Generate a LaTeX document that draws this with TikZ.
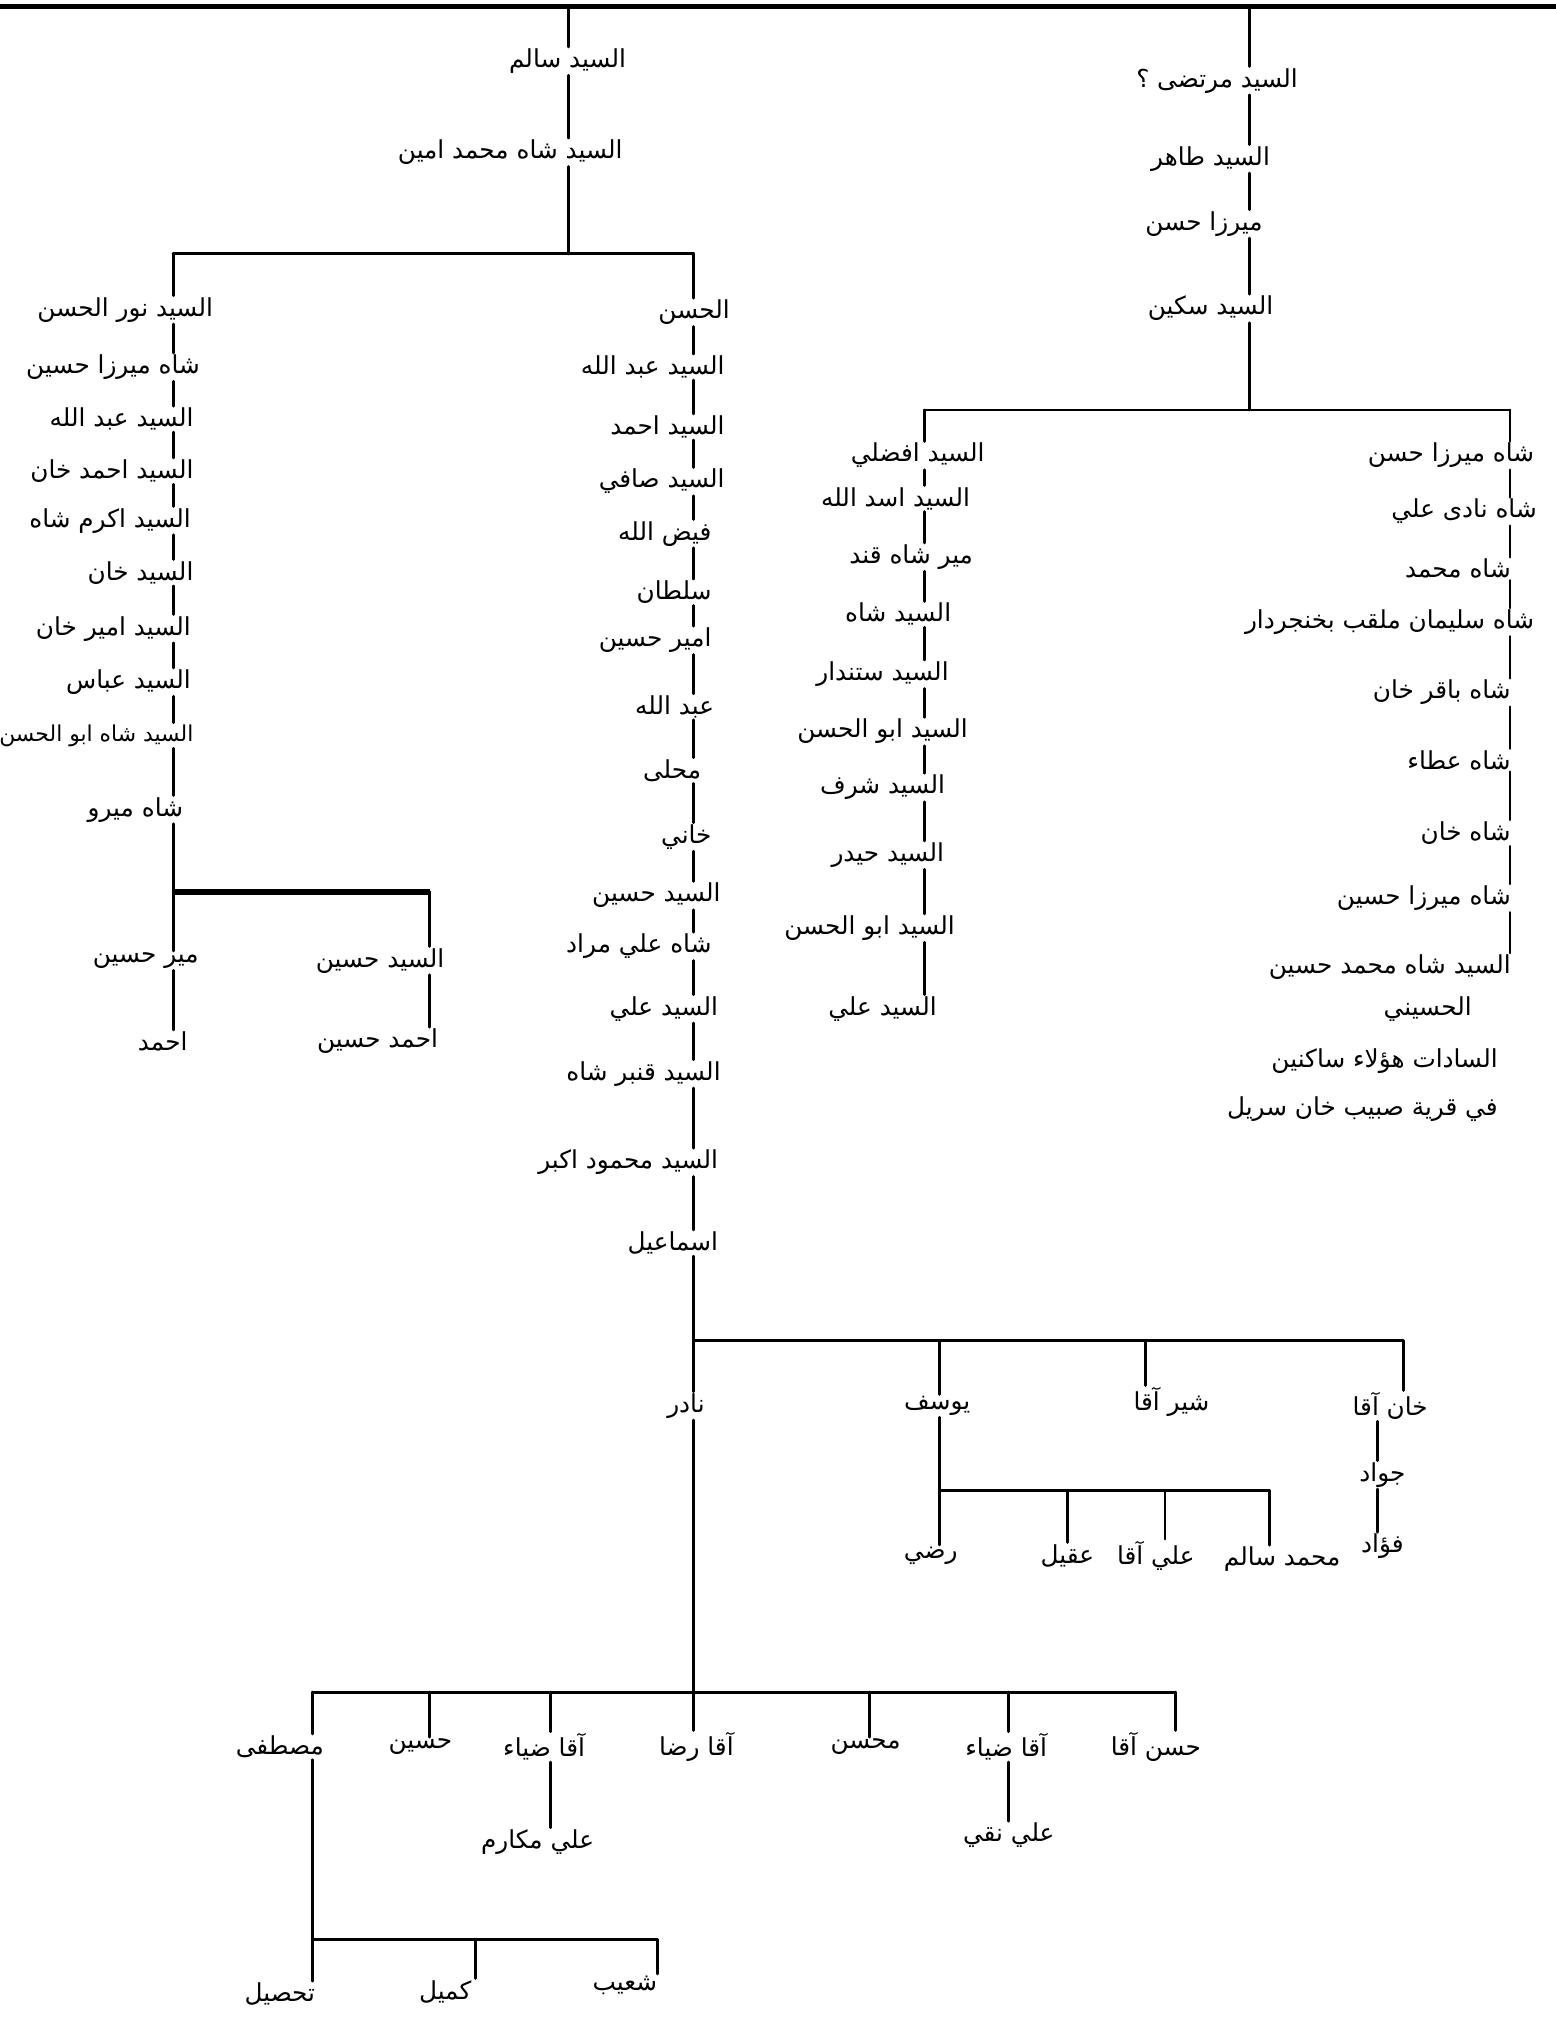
\documentclass[tikz,border=0pt]{standalone}
\usepackage{fontspec}
\newfontfamily\arfont[Script=Arabic]{DejaVu Sans}
\TeXXeTstate=1
\newcommand{\AR}[1]{\beginR #1\endR}
\begin{document}
\begin{tikzpicture}[x=0.5pt,y=-0.5pt,
  nm/.style={inner sep=0.5pt, font=\arfont\fontsize{9.5}{11}\selectfont},
  nms/.style={inner sep=0.5pt, font=\arfont\fontsize{8.4}{10}\selectfont},
  ln/.style={line width=1.1pt, line cap=round}]
\useasboundingbox (0,0) rectangle (1195,1568);
% ---------- top line
\coordinate (T1) at (0,5); \coordinate (T2) at (1195,5);
\draw[line width=2pt] (T1) -- (T2);
% ---------- left branch top
\node[nm] (s1) at (436,47) {\AR{السيد سالم}};
\node[nm] (s2) at (392,117) {\AR{السيد شاه محمد امين}};
\coordinate (a1) at (437,5);
\draw[ln] (a1) -- (a1 |- s1.north);
\draw[ln] (a1 |- s1.south) -- (a1 |- s2.north);
\coordinate (j1) at (437,195);
\draw[ln] (a1 |- s2.south) -- (j1);
\coordinate (cL) at (133,195); \coordinate (cM) at (533,195);
\draw[ln] (cL) -- (cM);
% ---------- left column
\node[nm,anchor=east] (L1) at (165,238) {\AR{السيد نور الحسن}};
\node[nm,anchor=east] (L2) at (155,282) {\AR{شاه ميرزا حسين}};
\node[nm,anchor=east] (L3) at (150,322) {\AR{السيد عبد الله}};
\node[nm,anchor=east] (L4) at (150,362) {\AR{السيد احمد خان}};
\node[nm,anchor=east] (L5) at (148,400) {\AR{السيد اكرم شاه}};
\node[nm,anchor=east] (L6) at (150,440) {\AR{السيد خان}};
\node[nm,anchor=east] (L7) at (148,483) {\AR{السيد امير خان}};
\node[nm,anchor=east] (L8) at (148,524) {\AR{السيد عباس}};
\node[nms,anchor=east] (L9) at (150,565) {\AR{السيد شاه ابو الحسن}};
\node[nm,anchor=east] (L10) at (142,622) {\AR{شاه ميرو}};
\draw[ln] (cL) -- (cL |- L1.north);
\foreach \a/\b in {L1/L2,L2/L3,L3/L4,L4/L5,L5/L6,L6/L7,L7/L8,L8/L9,L9/L10}
  \draw[ln] (cL |- \a.south) -- (cL |- \b.north);
\coordinate (jL) at (133,685); \coordinate (jL2) at (330,685);
\draw[ln] (cL |- L10.south) -- (jL);
\draw[line width=2.2pt] (jL) -- (jL2);
\node[nm] (L11) at (112,738) {\AR{مير حسين}};
\node[nm] (L12) at (292,738) {\AR{السيد حسين}};
\node[nm] (L13) at (125,800) {\AR{احمد}};
\node[nm] (L14) at (290,800) {\AR{احمد حسين}};
\draw[ln] (jL) -- (jL |- L11.north);
\draw[ln] (jL2) -- (jL2 |- L12.north);
\draw[ln] (jL |- L11.south) -- (jL |- L13.north);
\draw[ln] (jL2 |- L12.south) -- (jL2 |- L14.north);
% ---------- middle column
\node[nm,anchor=east] (M1) at (562,240) {\AR{الحسن}};
\node[nm,anchor=east] (M2) at (558,282) {\AR{السيد عبد الله}};
\node[nm,anchor=east] (M3) at (558,328) {\AR{السيد احمد}};
\node[nm,anchor=east] (M4) at (558,370) {\AR{السيد صافي}};
\node[nm,anchor=east] (M5) at (548,410) {\AR{فيض الله}};
\node[nm,anchor=east] (M6) at (548,455) {\AR{سلطان}};
\node[nm,anchor=east] (M7) at (548,492) {\AR{امير حسين}};
\node[nm,anchor=east] (M8) at (550,543) {\AR{عبد الله}};
\node[nm,anchor=east] (M9) at (540,592) {\AR{محلى}};
\node[nm,anchor=east] (M10) at (548,643) {\AR{خاني}};
\node[nm,anchor=east] (M11) at (555,688) {\AR{السيد حسين}};
\node[nm,anchor=east] (M12) at (548,727) {\AR{شاه علي مراد}};
\node[nm,anchor=east] (M13) at (553,775) {\AR{السيد علي}};
\node[nm,anchor=east] (M14) at (555,825) {\AR{السيد قنبر شاه}};
\node[nm,anchor=east] (M15) at (553,893) {\AR{السيد محمود اكبر}};
\node[nm,anchor=east] (M16) at (553,955) {\AR{اسماعيل}};
\draw[ln] (cM) -- (cM |- M1.north);
\foreach \a/\b in {M1/M2,M2/M3,M3/M4,M4/M5,M5/M6,M6/M7,M7/M8,M8/M9,M9/M10,M10/M11,M11/M12,M12/M13,M13/M14,M14/M15,M15/M16}
  \draw[ln] (cM |- \a.south) -- (cM |- \b.north);
% ---------- children of Ismail
\coordinate (jM) at (533,1030); \coordinate (v2) at (722,1030);
\coordinate (v3) at (880,1030); \coordinate (v4) at (1078,1030);
\draw[ln] (cM |- M16.south) -- (jM);
\draw[ln] (jM) -- (v4);
\node[nm] (N1) at (527,1080) {\AR{نادر}};
\node[nm] (N2) at (720,1080) {\AR{يوسف}};
\node[nm] (N3) at (900,1077) {\AR{شير آقا}};
\node[nm] (N4) at (1068,1080) {\AR{خان آقا}};
\draw[ln] (jM) -- (jM |- N1.north);
\draw[ln] (v2) -- (v2 |- N2.north);
\draw[ln] (v3) -- (v3 |- N3.north);
\draw[ln] (v4) -- (v4 |- N4.north);
% Yusuf
\coordinate (y1) at (722,1145); \coordinate (y2) at (820,1145);
\coordinate (y3) at (895,1145); \coordinate (y4) at (975,1145);
\draw[ln] (v2 |- N2.south) -- (y1);
\draw[ln] (y1) -- (y4);
\node[nm] (Y1) at (715,1195) {\AR{رضي}};
\node[nm] (Y2) at (820,1195) {\AR{عقيل}};
\node[nm] (Y3) at (888,1195) {\AR{علي آقا}};
\node[nm] (Y4) at (985,1198) {\AR{محمد سالم}};
\draw[ln] (y1) -- (y1 |- Y1.north);
\draw[ln] (y2) -- (y2 |- Y2.north);
\draw[ln] (y3) -- (y3 |- Y3.north);
\draw[ln] (y4) -- (y4 |- Y4.north);
% Khan Aqa
\coordinate (kx) at (1058,1100);
\node[nm] (K1) at (1062,1133) {\AR{جواد}};
\node[nm] (K2) at (1062,1188) {\AR{فؤاد}};
\draw[ln] (kx |- N4.south) -- (kx |- K1.north);
\draw[ln] (kx |- K1.south) -- (kx |- K2.north);
% Nadir
\coordinate (jB) at (533,1300);
\coordinate (b1) at (240,1300); \coordinate (b2) at (330,1300);
\coordinate (b3) at (423,1300); \coordinate (b5) at (668,1300);
\coordinate (b6) at (775,1300); \coordinate (b7) at (903,1300);
\draw[ln] (jM |- N1.south) -- (jB);
\draw[ln] (b1) -- (b7);
\node[nm] (B1) at (215,1342) {\AR{مصطفى}};
\node[nm] (B2) at (323,1342) {\AR{حسين}};
\node[nm] (B3) at (418,1342) {\AR{آقا ضياء}};
\node[nm] (B4) at (535,1342) {\AR{آقا رضا}};
\node[nm] (B5) at (665,1342) {\AR{محسن}};
\node[nm] (B6) at (773,1342) {\AR{آقا ضياء}};
\node[nm] (B7) at (888,1342) {\AR{حسن آقا}};
\draw[ln] (b1) -- (b1 |- B1.north);
\draw[ln] (b2) -- (b2 |- B2.north);
\draw[ln] (b3) -- (b3 |- B3.north);
\draw[ln] (jB) -- (jB |- B4.north);
\draw[ln] (b5) -- (b5 |- B5.north);
\draw[ln] (b6) -- (b6 |- B6.north);
\draw[ln] (b7) -- (b7 |- B7.north);
\node[nm] (C1) at (413,1415) {\AR{علي مكارم}};
\node[nm] (C2) at (775,1410) {\AR{علي نقي}};
\draw[ln] (b3 |- B3.south) -- (b3 |- C1.north);
\draw[ln] (b6 |- B6.south) -- (b6 |- C2.north);
% Mustafa
\coordinate (d1) at (240,1490); \coordinate (d2) at (365,1490); \coordinate (d3) at (505,1490);
\draw[ln] (b1 |- B1.south) -- (d1);
\draw[ln] (d1) -- (d3);
\node[nm] (D1) at (215,1532) {\AR{تحصيل}};
\node[nm] (D2) at (342,1530) {\AR{كميل}};
\node[nm] (D3) at (480,1525) {\AR{شعيب}};
\draw[ln] (d1) -- (d1 |- D1.north);
\draw[ln] (d2) -- (d2 |- D2.north);
\draw[ln] (d3) -- (d3 |- D3.north);
% ---------- right branch top
\coordinate (a2) at (960,5);
\node[nm] (R1) at (935,62) {\AR{السيد مرتضى ؟}};
\node[nm] (R2) at (930,122) {\AR{السيد طاهر}};
\node[nm] (R3) at (925,172) {\AR{ميرزا حسن}};
\node[nm] (R4) at (930,237) {\AR{السيد سكين}};
\draw[ln] (a2) -- (a2 |- R1.north);
\foreach \a/\b in {R1/R2,R2/R3,R3/R4}
  \draw[ln] (a2 |- \a.south) -- (a2 |- \b.north);
\coordinate (j2) at (960,315);
\coordinate (cP) at (710,315); \coordinate (cQ) at (1160,315);
\draw[ln] (a2 |- R4.south) -- (j2);
\draw[ln] (cP) -- (cQ);
% centre-right column
\node[nm] (P1) at (705,350) {\AR{السيد افضلي}};
\node[nm] (P2) at (688,383) {\AR{السيد اسد الله}};
\node[nm] (P3) at (700,428) {\AR{مير شاه قند}};
\node[nm] (P4) at (690,472) {\AR{السيد شاه}};
\node[nm] (P5) at (678,518) {\AR{السيد ستندار}};
\node[nm] (P6) at (678,562) {\AR{السيد ابو الحسن}};
\node[nm] (P7) at (678,605) {\AR{السيد شرف}};
\node[nm] (P8) at (682,657) {\AR{السيد حيدر}};
\node[nm] (P9) at (668,713) {\AR{السيد ابو الحسن}};
\node[nm] (P10) at (678,775) {\AR{السيد علي}};
\draw[ln] (cP) -- (cP |- P1.north);
\foreach \a/\b in {P1/P2,P2/P3,P3/P4,P4/P5,P5/P6,P6/P7,P7/P8,P8/P9,P9/P10}
  \draw[ln] (cP |- \a.south) -- (cP |- \b.north);
% right column
\node[nm,anchor=east] (Q1) at (1180,350) {\AR{شاه ميرزا حسن}};
\node[nm,anchor=east] (Q2) at (1182,393) {\AR{شاه نادى علي}};
\node[nm,anchor=east] (Q3) at (1162,437) {\AR{شاه محمد}};
\node[nm,anchor=east] (Q4) at (1180,478) {\AR{شاه سليمان ملقب بخنجردار}};
\node[nm,anchor=east] (Q5) at (1162,532) {\AR{شاه باقر خان}};
\node[nm,anchor=east] (Q6) at (1162,584) {\AR{شاه عطاء}};
\node[nm,anchor=east] (Q7) at (1162,640) {\AR{شاه خان}};
\node[nm,anchor=east] (Q8) at (1162,690) {\AR{شاه ميرزا حسين}};
\node[nm,anchor=east] (Q9) at (1162,743) {\AR{السيد شاه محمد حسين}};
\node[nm,anchor=east] (Q10) at (1132,775) {\AR{الحسيني}};
\node[nm,anchor=east] (Q11) at (1152,815) {\AR{السادات هؤلاء ساكنين}};
\node[nm,anchor=east] (Q12) at (1152,852) {\AR{في قرية صبيب خان سريل}};
\draw[ln] (cQ) -- (cQ |- Q1.north);
\foreach \a/\b in {Q1/Q2,Q2/Q3,Q3/Q4,Q4/Q5,Q5/Q6,Q6/Q7,Q7/Q8,Q8/Q9}
  \draw[ln] (cQ |- \a.south) -- (cQ |- \b.north);
\end{tikzpicture}
\end{document}
